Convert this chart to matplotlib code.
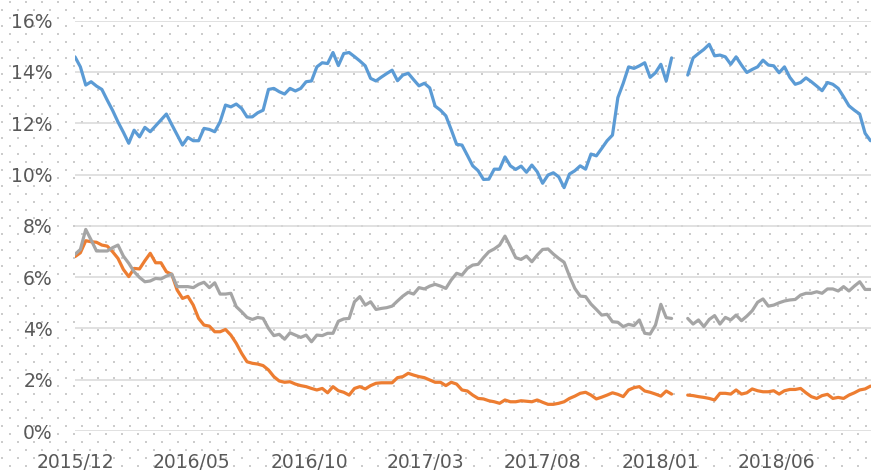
#!/usr/bin/env python3

import numpy as np
import pandas as pd
import matplotlib
matplotlib.use("Agg")
import matplotlib.pyplot as plt
import matplotlib.dates as mdates
from matplotlib.ticker import FuncFormatter

nan = np.nan

# weekly observations, first one on 2015/12/01
start_date = "2015-12-01"

blue = [
    14.59, 14.20, 13.49, 13.62, 13.45, 13.32, 12.90, 12.50, 12.05, 11.65,
    11.22, 11.73, 11.47, 11.84, 11.67, 11.90, 12.13, 12.36, 11.95, 11.55,
    11.15, 11.45, 11.32, 11.32, 11.80, 11.76, 11.67, 12.06, 12.71, 12.64,
    12.75, 12.58, 12.25, 12.25, 12.41, 12.51, 13.32, 13.36, 13.23, 13.14,
    13.36, 13.26, 13.36, 13.62, 13.65, 14.20, 14.36, 14.33, 14.76, 14.25,
    14.72, 14.76, 14.60, 14.43, 14.24, 13.75, 13.65, 13.80, 13.94, 14.07,
    13.66, 13.88, 13.95, 13.70, 13.46, 13.56, 13.38, 12.67, 12.51, 12.29,
    11.75, 11.18, 11.15, 10.75, 10.34, 10.15, 9.81, 9.82, 10.21, 10.21,
    10.69, 10.34, 10.20, 10.33, 10.09, 10.37, 10.11, 9.66, 9.98, 10.07,
    9.91, 9.49, 10.02, 10.15, 10.34, 10.21, 10.80, 10.73, 11.02, 11.32,
    11.54, 13.00, 13.56, 14.20, 14.14, 14.24, 14.36, 13.79, 13.97, 14.30,
    13.65, 14.55, nan, nan, 13.88, 14.55, 14.72, 14.88, 15.08, 14.63,
    14.66, 14.59, 14.30, 14.59, 14.27, 13.98, 14.10, 14.20, 14.46, 14.27,
    14.24, 13.97, 14.20, 13.79, 13.52, 13.59, 13.77, 13.62, 13.45, 13.27,
    13.59, 13.52, 13.36, 13.03, 12.68, 12.51, 12.36, 11.61, 11.32,
]

orange = [
    6.80, 6.95, 7.42, 7.38, 7.36, 7.25, 7.21, 6.99, 6.73, 6.30,
    6.02, 6.34, 6.32, 6.64, 6.93, 6.56, 6.56, 6.21, 6.11, 5.50,
    5.17, 5.25, 4.91, 4.39, 4.13, 4.09, 3.87, 3.87, 3.96, 3.74,
    3.42, 3.03, 2.70, 2.64, 2.61, 2.55, 2.38, 2.12, 1.95, 1.90,
    1.92, 1.83, 1.77, 1.73, 1.66, 1.60, 1.66, 1.49, 1.73, 1.57,
    1.51, 1.40, 1.66, 1.73, 1.64, 1.77, 1.86, 1.88, 1.88, 1.88,
    2.08, 2.12, 2.25, 2.18, 2.12, 2.08, 1.99, 1.90, 1.90, 1.77,
    1.90, 1.83, 1.60, 1.56, 1.40, 1.27, 1.25, 1.18, 1.14, 1.08,
    1.21, 1.14, 1.14, 1.18, 1.16, 1.14, 1.21, 1.12, 1.04, 1.04,
    1.08, 1.14, 1.27, 1.36, 1.47, 1.51, 1.40, 1.25, 1.32, 1.40,
    1.49, 1.43, 1.34, 1.60, 1.69, 1.73, 1.56, 1.51, 1.44, 1.36,
    1.56, 1.44, nan, nan, 1.40, 1.38, 1.34, 1.31, 1.27, 1.21,
    1.47, 1.47, 1.44, 1.60, 1.44, 1.49, 1.64, 1.57, 1.53, 1.53,
    1.57, 1.44, 1.57, 1.62, 1.62, 1.66, 1.49, 1.34, 1.27, 1.38,
    1.43, 1.27, 1.31, 1.27, 1.40, 1.49, 1.60, 1.64, 1.75,
]

gray = [
    6.89, 7.08, 7.86, 7.45, 7.02, 7.02, 7.02, 7.15, 7.25, 6.82,
    6.54, 6.21, 5.99, 5.82, 5.85, 5.95, 5.93, 6.04, 6.12, 5.63,
    5.63, 5.63, 5.59, 5.72, 5.80, 5.59, 5.78, 5.34, 5.34, 5.37,
    4.85, 4.65, 4.43, 4.35, 4.43, 4.39, 4.00, 3.72, 3.77, 3.58,
    3.83, 3.74, 3.65, 3.74, 3.48, 3.74, 3.72, 3.81, 3.81, 4.28,
    4.37, 4.39, 5.04, 5.24, 4.91, 5.04, 4.74, 4.78, 4.81, 4.87,
    5.07, 5.26, 5.41, 5.34, 5.59, 5.54, 5.65, 5.72, 5.65, 5.56,
    5.89, 6.15, 6.08, 6.34, 6.47, 6.50, 6.76, 6.99, 7.10, 7.25,
    7.60, 7.19, 6.76, 6.69, 6.82, 6.60, 6.86, 7.08, 7.10, 6.90,
    6.73, 6.58, 6.04, 5.56, 5.26, 5.24, 4.95, 4.74, 4.52, 4.55,
    4.26, 4.24, 4.07, 4.16, 4.11, 4.33, 3.81, 3.78, 4.13, 4.94,
    4.42, 4.39, nan, nan, 4.39, 4.17, 4.33, 4.07, 4.35, 4.50,
    4.17, 4.43, 4.33, 4.52, 4.30, 4.48, 4.69, 5.02, 5.15, 4.87,
    4.91, 5.00, 5.07, 5.11, 5.13, 5.30, 5.37, 5.37, 5.43, 5.37,
    5.54, 5.54, 5.46, 5.63, 5.46, 5.65, 5.82, 5.52, 5.52,
]

tick_dates = ["2015-12-01", "2016-05-01", "2016-10-01", "2017-03-01",
              "2017-08-01", "2018-01-01", "2018-06-01"]
y_ticks = [0, 2, 4, 6, 8, 10, 12, 14, 16]

W, H = 871, 473
fig = plt.figure(figsize=(W / 100, H / 100), dpi=100, facecolor="white")

# dotted background pattern (staggered light grey dots)
pattern = np.zeros((H, W, 4))
for j, y in enumerate(range(1, H, 8)):
    off = 8 * ((j + 1) % 2)
    for x in range(1 + off, W, 16):
        pattern[y:y + 2, x:x + 2] = [0.80, 0.80, 0.80, 1.0]
fig.figimage(pattern, xo=0, yo=0, zorder=-5, origin="upper")

ax = fig.add_axes([75 / W, 42 / H, (W - 75) / W, 410.3 / H])
ax.set_facecolor("none")

dates = pd.date_range(start_date, periods=len(blue), freq="7D")

for vals, col in [(blue, "#5B9BD5"), (orange, "#ED7D31"), (gray, "#A5A5A5")]:
    ax.plot(dates, vals, color=col, lw=2.3,
            solid_joinstyle="round", solid_capstyle="round")

ax.set_ylim(0, 16)
ax.set_yticks(y_ticks)
ax.yaxis.set_major_formatter(FuncFormatter(lambda v, p: f"{v:.0f}%"))
ax.grid(axis="y", color="#D9D9D9", lw=1.1)
ax.set_axisbelow(True)

x0 = pd.Timestamp(start_date)
ax.set_xlim(x0, x0 + pd.Timedelta(days=1036.7))
ax.set_xticks(pd.to_datetime(tick_dates))
ax.xaxis.set_major_formatter(mdates.DateFormatter("%Y/%m"))

for s in ax.spines.values():
    s.set_visible(False)
ax.tick_params(length=0, labelsize=13.5, labelcolor="#595959")
ax.tick_params(axis="y", pad=16)
ax.tick_params(axis="x", pad=16)
for lab in ax.get_xticklabels() + ax.get_yticklabels():
    lab.set_clip_on(False)

fig.savefig("out.png", dpi=100)
